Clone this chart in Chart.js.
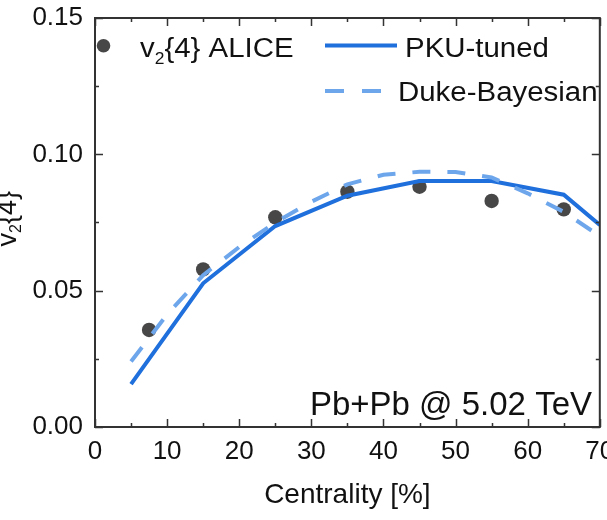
<!DOCTYPE html>
<html><head><meta charset="utf-8">
<script src="https://cdn.jsdelivr.net/npm/chart.js@4/dist/chart.umd.min.js"></script>
<style>html,body{margin:0;padding:0;background:#fff}#wrap{width:607px;height:520px;position:relative}</style>
</head><body><div id="wrap"><canvas id="c" width="607" height="520"></canvas></div>
<script>
const FONT = '"Liberation Sans", Arial, Helvetica, sans-serif';
const xTicks = [0, 10, 20, 30, 40, 50, 60, 70];
const yTicks = [0.00, 0.05, 0.10, 0.15];
const aliceX = [7.5, 15, 25, 35, 45, 55, 65];
const aliceV2 = [0.0356, 0.0578, 0.0769, 0.0863, 0.0881, 0.0829, 0.0798];
const pkuX = [5, 15, 25, 35, 45, 55, 65, 70];
const pkuV2 = [0.0157, 0.0527, 0.0737, 0.0848, 0.0902, 0.0902, 0.0852, 0.0741];
const dukeX = [5, 10, 15, 20, 25, 30, 35, 40, 45, 50, 55, 60, 65, 70];
const dukeV2 = [0.0240, 0.0413, 0.0557, 0.0660, 0.0750, 0.0826, 0.0890, 0.0925, 0.0936, 0.0935, 0.0915, 0.0857, 0.0789, 0.0700];

const COL_PKU = '#1f6fdc';
const COL_DUKE = '#6ea6ec';
const COL_DOT = '#474747';
const COL_AX = '#333333';
const TXT = '#111111';

const pts = (xs, ys) => xs.map((x, i) => ({x: x, y: ys[i]}));

const framePlugin = {
  id: 'frame',
  afterDraw(chart) {
    const ctx = chart.ctx, a = chart.chartArea;
    const sx = chart.scales.x, sy = chart.scales.y;
    ctx.save();
    ctx.strokeStyle = COL_AX;
    ctx.lineWidth = 2;
    ctx.strokeRect(a.left, a.top, a.right - a.left, a.bottom - a.top);
    ctx.lineWidth = 1.5;
    ctx.beginPath();
    for (let v = 0; v <= 70; v += 5) {
      const px = Math.round(sx.getPixelForValue(v)) + 0.5;
      const L = (v % 10 === 0) ? 8 : 4;
      ctx.moveTo(px, a.bottom); ctx.lineTo(px, a.bottom - L);
      ctx.moveTo(px, a.top); ctx.lineTo(px, a.top + L);
    }
    for (let k = 0; k <= 6; k++) {
      const v = k * 0.025;
      const py = Math.round(sy.getPixelForValue(v)) + 0.5;
      const L = (k % 2 === 0) ? 8 : 4;
      ctx.moveTo(a.left, py); ctx.lineTo(a.left + L, py);
      ctx.moveTo(a.right, py); ctx.lineTo(a.right - L, py);
    }
    ctx.stroke();
    ctx.restore();
  }
};

const textPlugin = {
  id: 'texts',
  afterDraw(chart) {
    const ctx = chart.ctx;
    ctx.save();
    ctx.fillStyle = TXT;
    ctx.textBaseline = 'alphabetic';
    ctx.textAlign = 'left';

    // y axis title v2{4}
    ctx.save();
    ctx.translate(15.5, 246.5);
    ctx.rotate(-Math.PI / 2);
    ctx.font = '27px ' + FONT;
    ctx.fillText('v', 0, 0);
    let w = ctx.measureText('v').width;
    ctx.font = '16px ' + FONT;
    ctx.fillText('2', w, 5);
    w += ctx.measureText('2').width;
    ctx.font = '27px ' + FONT;
    ctx.fillText('{4}', w, 0);
    ctx.restore();

    // legend
    const SX = 1.09;
    // dot
    ctx.fillStyle = COL_DOT;
    ctx.beginPath(); ctx.arc(103.5, 45.7, 6.8, 0, Math.PI * 2); ctx.fill();
    ctx.fillStyle = TXT;
    ctx.save();
    ctx.translate(140, 56.7);
    ctx.scale(SX, 1);
    ctx.font = '27px ' + FONT;
    ctx.fillText('v', 0, 0);
    w = ctx.measureText('v').width;
    ctx.font = '16px ' + FONT;
    ctx.fillText('2', w, 7);
    w += ctx.measureText('2').width;
    ctx.font = '27px ' + FONT;
    ctx.fillText('{4} ALICE', w, 0);
    ctx.restore();

    // PKU sample
    ctx.strokeStyle = COL_PKU; ctx.lineWidth = 4;
    ctx.beginPath(); ctx.moveTo(325, 45.5); ctx.lineTo(397, 45.5); ctx.stroke();
    ctx.save();
    ctx.translate(405, 56.7); ctx.scale(SX, 1);
    ctx.font = '27px ' + FONT;
    ctx.fillText('PKU-tuned', 0, 0);
    ctx.restore();

    // Duke sample
    ctx.strokeStyle = COL_DUKE; ctx.lineWidth = 4;
    ctx.setLineDash([19, 18]);
    ctx.beginPath(); ctx.moveTo(325, 91); ctx.lineTo(383, 91); ctx.stroke();
    ctx.setLineDash([]);
    ctx.save();
    ctx.translate(398, 100.5); ctx.scale(SX, 1);
    ctx.font = '27px ' + FONT;
    ctx.fillText('Duke-Bayesian', 0, 0);
    ctx.restore();

    // system label
    ctx.font = '33px ' + FONT;
    ctx.textAlign = 'right';
    ctx.fillText('Pb+Pb @ 5.02 TeV', 592, 415);
    ctx.restore();
  }
};

new Chart(document.getElementById('c'), {
  type: 'scatter',
  data: {
    datasets: [
      { label: 'Duke-Bayesian', data: pts(dukeX, dukeV2), showLine: true, borderColor: COL_DUKE,
        borderWidth: 4, borderDash: [18, 17], pointRadius: 0, tension: 0, order: 1, fill: false },
      { label: 'PKU-tuned', data: pts(pkuX, pkuV2), showLine: true, borderColor: COL_PKU,
        borderWidth: 4, pointRadius: 0, tension: 0, order: 2, fill: false },
      { label: 'v2{4} ALICE', data: pts(aliceX, aliceV2), showLine: false, backgroundColor: COL_DOT,
        borderWidth: 0, pointRadius: 7.2, order: 3 }
    ]
  },
  options: {
    responsive: false, animation: false, devicePixelRatio: 1,
    layout: { padding: { top: 18, right: 5, left: 0, bottom: 0 } },
    plugins: { legend: { display: false }, tooltip: { enabled: false } },
    scales: {
      x: {
        type: 'linear', position: 'bottom', min: 0, max: 70,
        afterBuildTicks: s => { s.ticks = xTicks.map(v => ({ value: v })); },
        afterFit: s => { s.height = 93; s.paddingLeft = 0; s.paddingRight = 0; },
        grid: { display: false, drawTicks: false }, border: { display: false },
        ticks: { font: { family: FONT, size: 26 }, color: TXT, padding: 9, maxRotation: 0, autoSkip: false },
        title: { display: true, text: 'Centrality [%]', font: { family: FONT, size: 28 }, color: TXT,
                 padding: { top: 0, bottom: 8 } }
      },
      y: {
        type: 'linear', position: 'left', min: 0, max: 0.15,
        afterBuildTicks: s => { s.ticks = yTicks.map(v => ({ value: v })); },
        afterFit: s => { s.width = 95; s.paddingTop = 0; s.paddingBottom = 0; },
        grid: { display: false, drawTicks: false }, border: { display: false },
        ticks: { font: { family: FONT, size: 26 }, color: TXT, padding: 12, callback: v => Number(v).toFixed(2) }
      }
    }
  },
  plugins: [framePlugin, textPlugin]
});
</script>
</body></html>
